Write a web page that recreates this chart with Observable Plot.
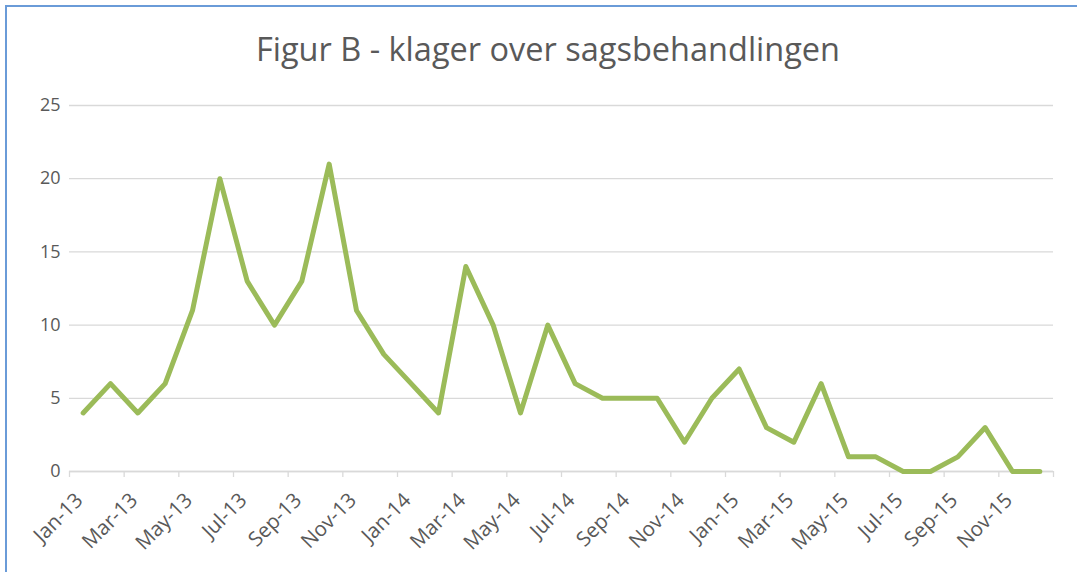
<!DOCTYPE html>
<html>
<head>
<meta charset="utf-8">
<script src="https://cdn.jsdelivr.net/npm/d3@7"></script>
<script src="https://cdn.jsdelivr.net/npm/@observablehq/plot@0.6"></script>
<style>
  html, body { margin: 0; padding: 0; background: #fff; overflow: hidden; }
  #wrap { position: relative; width: 1077px; height: 572px; overflow: hidden; font-family: 'Open Sans', sans-serif; }
  #frame { position: absolute; left: 5px; top: 5px; width: 1200px; height: 700px; border: 2px solid #6A9BD8; box-sizing: border-box; }
  #title { position: absolute; left: 0; width: 1096px; top: 27px; text-align: center; font-size: 32.5px; color: #595959; line-height: 44px; white-space: nowrap; }
  #chart { position: absolute; left: 0; top: 0; }
</style>
</head>
<body>
<div id="wrap">
  <div id="frame"></div>
  <div id="chart"></div>
  <div id="title">Figur B - klager over sagsbehandlingen</div>
</div>
<script>
const months = ["Jan-13","Feb-13","Mar-13","Apr-13","May-13","Jun-13","Jul-13","Aug-13","Sep-13","Oct-13","Nov-13","Dec-13",
                "Jan-14","Feb-14","Mar-14","Apr-14","May-14","Jun-14","Jul-14","Aug-14","Sep-14","Oct-14","Nov-14","Dec-14",
                "Jan-15","Feb-15","Mar-15","Apr-15","May-15","Jun-15","Jul-15","Aug-15","Sep-15","Oct-15","Nov-15","Dec-15"];
const values = [4,6,4,6,11,20,13,10,13,21,11,8,
                6,4,14,10,4,10,6,5,5,5,2,5,
                7,3,2,6,1,1,0,0,1,3,0,0];
const yTicks = [0,5,10,15,20,25];

const idx = months.map((m, i) => i);
const labelIdx = idx.filter(i => i % 2 === 0);
const boundaries = idx.filter(i => i % 2 === 0).map(i => i - 0.5).concat([months.length - 0.5]);
const data = months.map((m, i) => ({i, month: m, value: values[i]}));

const chart = Plot.plot({
  width: 1077,
  height: 572,
  marginTop: 105,
  marginBottom: 101,
  marginLeft: 69,
  marginRight: 24,
  style: {fontFamily: "'Open Sans', sans-serif", background: "transparent", color: "#595959"},
  x: {type: "linear", domain: [-0.5, months.length - 0.5]},
  y: {domain: [0, 25]},
  marks: [
    Plot.gridY(yTicks, {stroke: "#D9D9D9", strokeOpacity: 1, strokeWidth: 1.3}),
    Plot.axisY(yTicks, {tickSize: 0, tickPadding: 9, fontSize: 18, fill: "#595959", label: null}),
    Plot.axisX(boundaries, {tickSize: 6, stroke: "#D9D9D9", strokeWidth: 1.3, tickFormat: () => "", label: null}),
    Plot.text(labelIdx, {x: i => i, text: i => months[i], frameAnchor: "bottom", rotate: -45, textAnchor: "end", dy: 30, dx: 1, fontSize: 20.5, fill: "#595959"}),
    Plot.ruleY([0], {stroke: "#D9D9D9", strokeWidth: 1.3}),
    Plot.lineY(data, {x: "i", y: "value", stroke: "#9BBB59", strokeWidth: 5, strokeLinejoin: "round", strokeLinecap: "round"})
  ]
});
document.getElementById("chart").appendChild(chart);
</script>
</body>
</html>
